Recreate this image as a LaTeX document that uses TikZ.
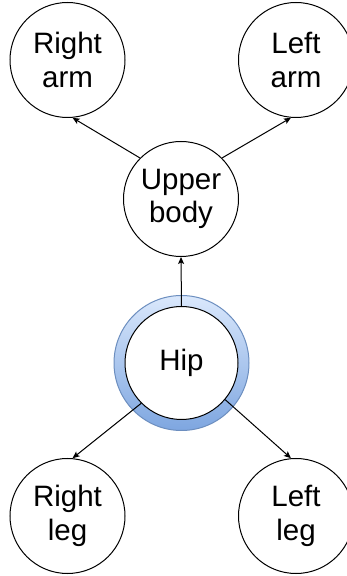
\documentclass[tikz,border=0pt]{standalone}
\usepackage{fontspec}
\setmainfont{Liberation Sans}
\usetikzlibrary{arrows.meta}

\begin{document}
\begin{tikzpicture}[
  x=1pt, y=1pt,
  joint/.style={circle, draw, fill=white, line width=1pt, minimum size=115pt, inner sep=0pt,
    align=center, font=\fontsize{29.5}{33.6}\selectfont},
  root/.style={circle, draw={rgb,255:red,108;green,142;blue,191}, line width=1pt, minimum size=135pt,
    top color={rgb,255:red,218;green,232;blue,252}, bottom color={rgb,255:red,126;green,166;blue,224}},
  bone/.style={line width=1pt, -{Stealth[length=7pt,width=6pt,inset=1.5pt]}},
]

\useasboundingbox (0,0) rectangle (347,576);

\node [joint] (rarm) at (67.5,516) {Right\\arm};
\node [joint] (larm) at (296,516) {Left\\arm};
\node [joint] (ubody) at (181,377) {Upper\\body};
\node [root] (hipring) at (181.5,213) {};
\node [joint, minimum size=113pt] (hip) at (181.5,213) {Hip};
\node [joint] (rleg) at (67.5,60) {Right\\leg};
\node [joint] (lleg) at (296,60) {Left\\leg};

\draw [bone] (ubody.135) -- (rarm.-85);
\draw [bone] (ubody.45) -- (larm.-95);
\draw [bone] (hip.north) -- (ubody.south);
\draw [bone] (hip.225) -- (rleg.85);
\draw [bone] (hip.-40) -- (lleg.95);

\end{tikzpicture}
\end{document}
